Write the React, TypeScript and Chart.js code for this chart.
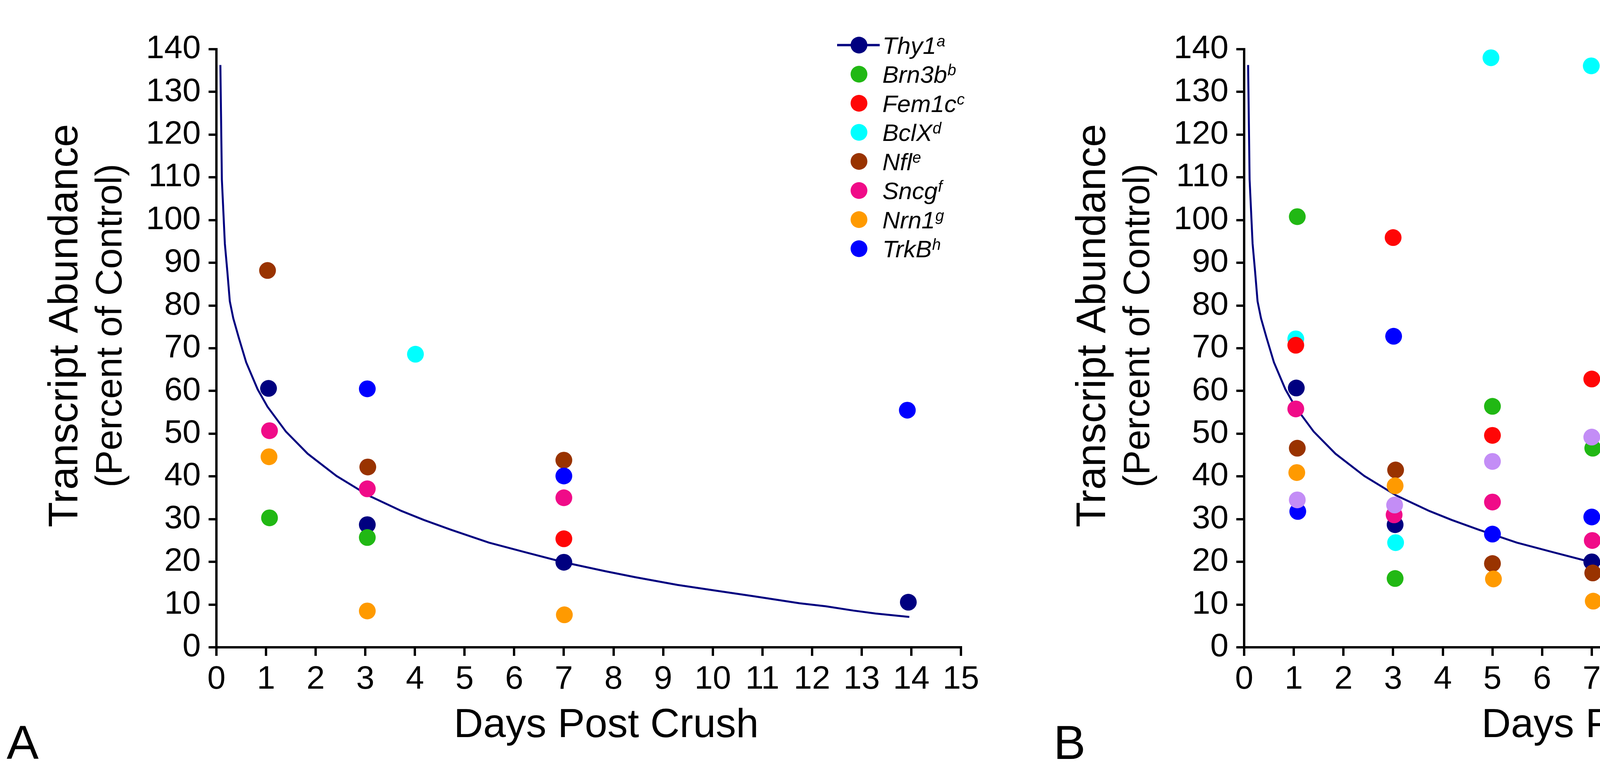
import React, { useEffect, useRef } from "react";
import { Chart, registerables } from "chart.js";

Chart.register(...registerables);

// ---------------- DATA ----------------
const X_MIN = 0;
const X_MAX = 15;
const Y_MIN = 0;
const Y_MAX = 140;

// Fitted Thy1 decay curve
const CURVE_DAYS = [0.08, 0.11, 0.17, 0.22, 0.27, 0.34, 0.45, 0.6, 0.83, 1.03, 1.4, 1.84, 2.42, 3.07, 3.73, 4.18, 4.73, 5.49, 6.24, 7.0, 7.84, 8.44, 9.29, 10.04, 10.8, 11.25, 11.75, 12.28, 12.83, 13.28, 13.96];
const CURVE_VALUES = [136.3, 109.5, 94.5, 88, 81, 77, 72.5, 66.7, 60.4, 56.3, 50.5, 45.3, 40.1, 35.5, 31.9, 29.8, 27.5, 24.5, 22.2, 19.9, 17.8, 16.4, 14.6, 13.3, 12.0, 11.2, 10.3, 9.6, 8.6, 7.9, 7.1];

// Panel A
const A_THY1A_DAYS = [1.05, 3.04, 7.0, 13.94];
const A_THY1A = [60.6, 28.7, 19.9, 10.55];
const A_BRN3B_DAYS = [1.07, 3.04];
const A_BRN3B = [30.3, 25.7];
const A_FEM1C_DAYS = [7.0];
const A_FEM1C = [25.4];
const A_BCLX_DAYS = [4.01];
const A_BCLX = [68.6];
const A_NFL_DAYS = [1.03, 3.05, 7.0];
const A_NFL = [88.2, 42.2, 43.8];
const A_SNCG_DAYS = [1.07, 3.04, 7.0];
const A_SNCG = [50.7, 37.1, 35.0];
const A_NRN1_DAYS = [1.06, 3.04, 7.01];
const A_NRN1 = [44.6, 8.5, 7.6];
const A_TRKB_DAYS = [3.04, 7.0, 13.92];
const A_TRKB = [60.5, 40.1, 55.5];

// Panel B
const B_THY1A_DAYS = [1.05, 3.04, 7.0, 13.93];
const B_THY1A = [60.7, 28.7, 20.0, 10.5];
const B_BRN3B_DAYS = [1.07, 3.04, 5.0, 7.02];
const B_BRN3B = [100.8, 16.1, 56.4, 46.6];
const B_FEM1C_DAYS = [1.04, 3.0, 5.0, 7.0];
const B_FEM1C = [70.7, 95.9, 49.6, 62.8];
const B_BCLX_DAYS = [1.04, 3.05, 4.97, 6.99];
const B_BCLX = [72.2, 24.5, 138.0, 136.1];
const B_NFL_DAYS = [1.07, 3.05, 5.0, 7.02];
const B_NFL = [46.6, 41.5, 19.6, 17.4];
const B_SNCG_DAYS = [1.04, 3.02, 5.0, 7.01];
const B_SNCG = [55.8, 31.0, 34.0, 25.0];
const B_NRN1_DAYS = [1.06, 3.04, 5.02, 7.03];
const B_NRN1 = [40.9, 37.8, 16.0, 10.8];
const B_TRKB_DAYS = [1.08, 3.01, 5.0, 7.0];
const B_TRKB = [31.8, 72.8, 26.5, 30.5];
const B_THY1_DAYS = [1.07, 3.03, 5.0, 7.0];
const B_THY1 = [34.5, 33.3, 43.5, 49.2];

// Labels
const Y_TITLE_1 = "Transcript Abundance";
const Y_TITLE_2 = "(Percent of Control)";
const X_TITLE = "Days Post Crush";

// ---------------- STYLE ----------------
const COLORS: Record<string, string> = {
  thy1a: "#000080",
  brn3b: "#21B814",
  fem1c: "#FF0606",
  bclx: "#00FFFF",
  nfl: "#993300",
  sncg: "#F00B88",
  nrn1: "#FF9A00",
  trkb: "#0000FF",
  thy1: "#C38DF6",
};
// drawing order, bottom -> top
const DRAW_ORDER = ["thy1a", "bclx", "fem1c", "brn3b", "nfl", "sncg", "nrn1", "trkb", "thy1"];

const FONT = '"Liberation Sans", Arial, Helvetica, sans-serif';
const CANVAS_H = 1980;

type Series = { key: string; label: string; sup: string; days: number[]; values: number[] };

const SERIES_A: Series[] = [
  { key: "thy1a", label: "Thy1", sup: "a", days: A_THY1A_DAYS, values: A_THY1A },
  { key: "brn3b", label: "Brn3b", sup: "b", days: A_BRN3B_DAYS, values: A_BRN3B },
  { key: "fem1c", label: "Fem1c", sup: "c", days: A_FEM1C_DAYS, values: A_FEM1C },
  { key: "bclx", label: "BclX", sup: "d", days: A_BCLX_DAYS, values: A_BCLX },
  { key: "nfl", label: "Nfl", sup: "e", days: A_NFL_DAYS, values: A_NFL },
  { key: "sncg", label: "Sncg", sup: "f", days: A_SNCG_DAYS, values: A_SNCG },
  { key: "nrn1", label: "Nrn1", sup: "g", days: A_NRN1_DAYS, values: A_NRN1 },
  { key: "trkb", label: "TrkB", sup: "h", days: A_TRKB_DAYS, values: A_TRKB },
];

const SERIES_B: Series[] = [
  { key: "thy1a", label: "Thy1", sup: "a", days: B_THY1A_DAYS, values: B_THY1A },
  { key: "brn3b", label: "Brn3b", sup: "", days: B_BRN3B_DAYS, values: B_BRN3B },
  { key: "fem1c", label: "Fem1c", sup: "", days: B_FEM1C_DAYS, values: B_FEM1C },
  { key: "bclx", label: "BclX", sup: "", days: B_BCLX_DAYS, values: B_BCLX },
  { key: "nfl", label: "Nfl", sup: "", days: B_NFL_DAYS, values: B_NFL },
  { key: "sncg", label: "Sncg", sup: "", days: B_SNCG_DAYS, values: B_SNCG },
  { key: "nrn1", label: "Nrn1", sup: "", days: B_NRN1_DAYS, values: B_NRN1 },
  { key: "trkb", label: "TrkB", sup: "", days: B_TRKB_DAYS, values: B_TRKB },
  { key: "thy1", label: "Thy1", sup: "", days: B_THY1_DAYS, values: B_THY1 },
];

type PanelLayout = {
  canvasLeft: number;
  canvasWidth: number;
  plotLeft: number; // chart area left within canvas
  plotRight: number;
  plotTop: number;
  plotBottom: number;
  letter: string;
  letterX: number;
  legendTop: number;
};

const decorPlugin = {
  id: "decor",
  afterDraw(chart: any, _args: any, opts: any) {
    const ctx = chart.ctx as CanvasRenderingContext2D;
    const ca = chart.chartArea;
    const series: Series[] = opts.series;
    const lay: PanelLayout = opts.layout;
    ctx.save();
    ctx.fillStyle = "#000";

    // Y title (two lines, rotated)
    const cy = ca.top + 708;
    ctx.save();
    ctx.translate(ca.left - 356, cy);
    ctx.rotate(-Math.PI / 2);
    ctx.textAlign = "center";
    ctx.textBaseline = "alphabetic";
    ctx.font = `106px ${FONT}`;
    ctx.fillText(Y_TITLE_1, 0, 0);
    ctx.restore();
    ctx.save();
    ctx.translate(ca.left - 243, cy);
    ctx.rotate(-Math.PI / 2);
    ctx.textAlign = "center";
    ctx.textBaseline = "alphabetic";
    ctx.font = `95px ${FONT}`;
    ctx.fillText(Y_TITLE_2, 0, 0);
    ctx.restore();

    // X title
    ctx.textAlign = "center";
    ctx.textBaseline = "alphabetic";
    ctx.font = `104px ${FONT}`;
    ctx.fillText(X_TITLE, ca.left + 998, ca.bottom + 230);

    // Panel letter
    ctx.textAlign = "left";
    ctx.font = `123px ${FONT}`;
    ctx.fillText(lay.letter, lay.letterX, 1944);

    // Legend
    const step = 74.5;
    const mx = ca.left + 1645;
    const tx = ca.left + 1705;
    series.forEach((s, i) => {
      const y = lay.legendTop + i * step;
      const color = COLORS[s.key];
      if (s.key === "thy1a") {
        ctx.strokeStyle = color;
        ctx.lineWidth = 6;
        ctx.beginPath();
        ctx.moveTo(ca.left + 1589, y);
        ctx.lineTo(ca.left + 1698, y);
        ctx.stroke();
      }
      ctx.fillStyle = color;
      ctx.beginPath();
      ctx.arc(mx, y, 21.5, 0, Math.PI * 2);
      ctx.fill();
      ctx.fillStyle = "#000";
      ctx.textAlign = "left";
      ctx.textBaseline = "alphabetic";
      ctx.font = `italic 62px ${FONT}`;
      ctx.fillText(s.label, tx, y + 22);
      if (s.sup) {
        const w = ctx.measureText(s.label).width;
        ctx.font = `italic 40px ${FONT}`;
        ctx.fillText(s.sup, tx + w + 1, y + 3);
      }
    });
    ctx.restore();
  },
};

function buildConfig(series: Series[], lay: PanelLayout): any {
  const curve = {
    type: "scatter",
    label: "fit",
    data: CURVE_DAYS.map((d, i) => ({ x: d, y: CURVE_VALUES[i] })),
    showLine: true,
    borderColor: COLORS.thy1a,
    borderWidth: 5,
    pointRadius: 0,
    tension: 0,
    order: 1000,
  };
  const pts = series.map((s) => ({
    type: "scatter",
    label: s.label + s.sup,
    data: s.days.map((d, i) => ({ x: d, y: s.values[i] })),
    showLine: false,
    backgroundColor: COLORS[s.key],
    borderWidth: 0,
    pointRadius: 21.5,
    pointStyle: "circle",
    order: 100 - DRAW_ORDER.indexOf(s.key),
  }));

  const yWidth = lay.plotLeft;
  const xHeight = CANVAS_H - lay.plotBottom;

  return {
    type: "scatter",
    data: { datasets: [curve, ...pts] },
    plugins: [decorPlugin],
    options: {
      animation: false,
      responsive: false,
      devicePixelRatio: 1,
      events: [],
      layout: {
        padding: { left: 0, top: lay.plotTop, right: lay.canvasWidth - lay.plotRight, bottom: 0 },
      },
      plugins: {
        legend: { display: false },
        tooltip: { enabled: false },
        title: { display: false },
        decor: { series, layout: lay },
      },
      scales: {
        x: {
          type: "linear",
          min: X_MIN,
          max: X_MAX,
          afterFit: (scale: any) => {
            scale.height = xHeight;
          },
          ticks: {
            stepSize: 1,
            color: "#000",
            font: { family: FONT, size: 84 },
            padding: 10,
            maxRotation: 0,
            autoSkip: false,
          },
          grid: {
            display: true,
            drawOnChartArea: false,
            drawTicks: true,
            tickLength: 22,
            tickWidth: 6,
            tickColor: "#000",
            color: "#000",
            lineWidth: 6,
          },
          border: { display: true, color: "#000", width: 6 },
        },
        y: {
          type: "linear",
          min: Y_MIN,
          max: Y_MAX,
          afterFit: (scale: any) => {
            scale.width = yWidth;
          },
          ticks: {
            stepSize: 10,
            color: "#000",
            font: { family: FONT, size: 84 },
            padding: 20,
            autoSkip: false,
          },
          grid: {
            display: true,
            drawOnChartArea: false,
            drawTicks: true,
            tickLength: 20,
            tickWidth: 6,
            tickColor: "#000",
            color: "#000",
            lineWidth: 6,
          },
          border: { display: true, color: "#000", width: 6 },
        },
      },
    },
  };
}

const LAYOUT_A: PanelLayout = {
  canvasLeft: 0,
  canvasWidth: 2592,
  plotLeft: 554,
  plotRight: 2460,
  plotTop: 126,
  plotBottom: 1658,
  letter: "A",
  letterX: 17,
  legendTop: 115.5,
};

const LAYOUT_B: PanelLayout = {
  canvasLeft: 2592,
  canvasWidth: 2590,
  plotLeft: 3185 - 2592,
  plotRight: 5092 - 2592,
  plotTop: 126,
  plotBottom: 1658,
  letter: "B",
  letterX: 2697 - 2592,
  legendTop: 119.5,
};

function Panel({ series, layout }: { series: Series[]; layout: PanelLayout }) {
  const ref = useRef<HTMLCanvasElement | null>(null);
  useEffect(() => {
    if (!ref.current) return;
    const chart = new Chart(ref.current, buildConfig(series, layout));
    return () => chart.destroy();
  }, [series, layout]);
  return (
    <canvas
      ref={ref}
      width={layout.canvasWidth}
      height={CANVAS_H}
      style={{
        position: "absolute",
        left: layout.canvasLeft,
        top: 0,
        width: layout.canvasWidth,
        height: CANVAS_H,
      }}
    />
  );
}

export default function App() {
  return (
    <div
      style={{
        position: "absolute",
        left: 0,
        top: 0,
        width: 5182,
        height: 1980,
        background: "#fff",
        overflow: "hidden",
      }}
    >
      <Panel series={SERIES_A} layout={LAYOUT_A} />
      <Panel series={SERIES_B} layout={LAYOUT_B} />
    </div>
  );
}
